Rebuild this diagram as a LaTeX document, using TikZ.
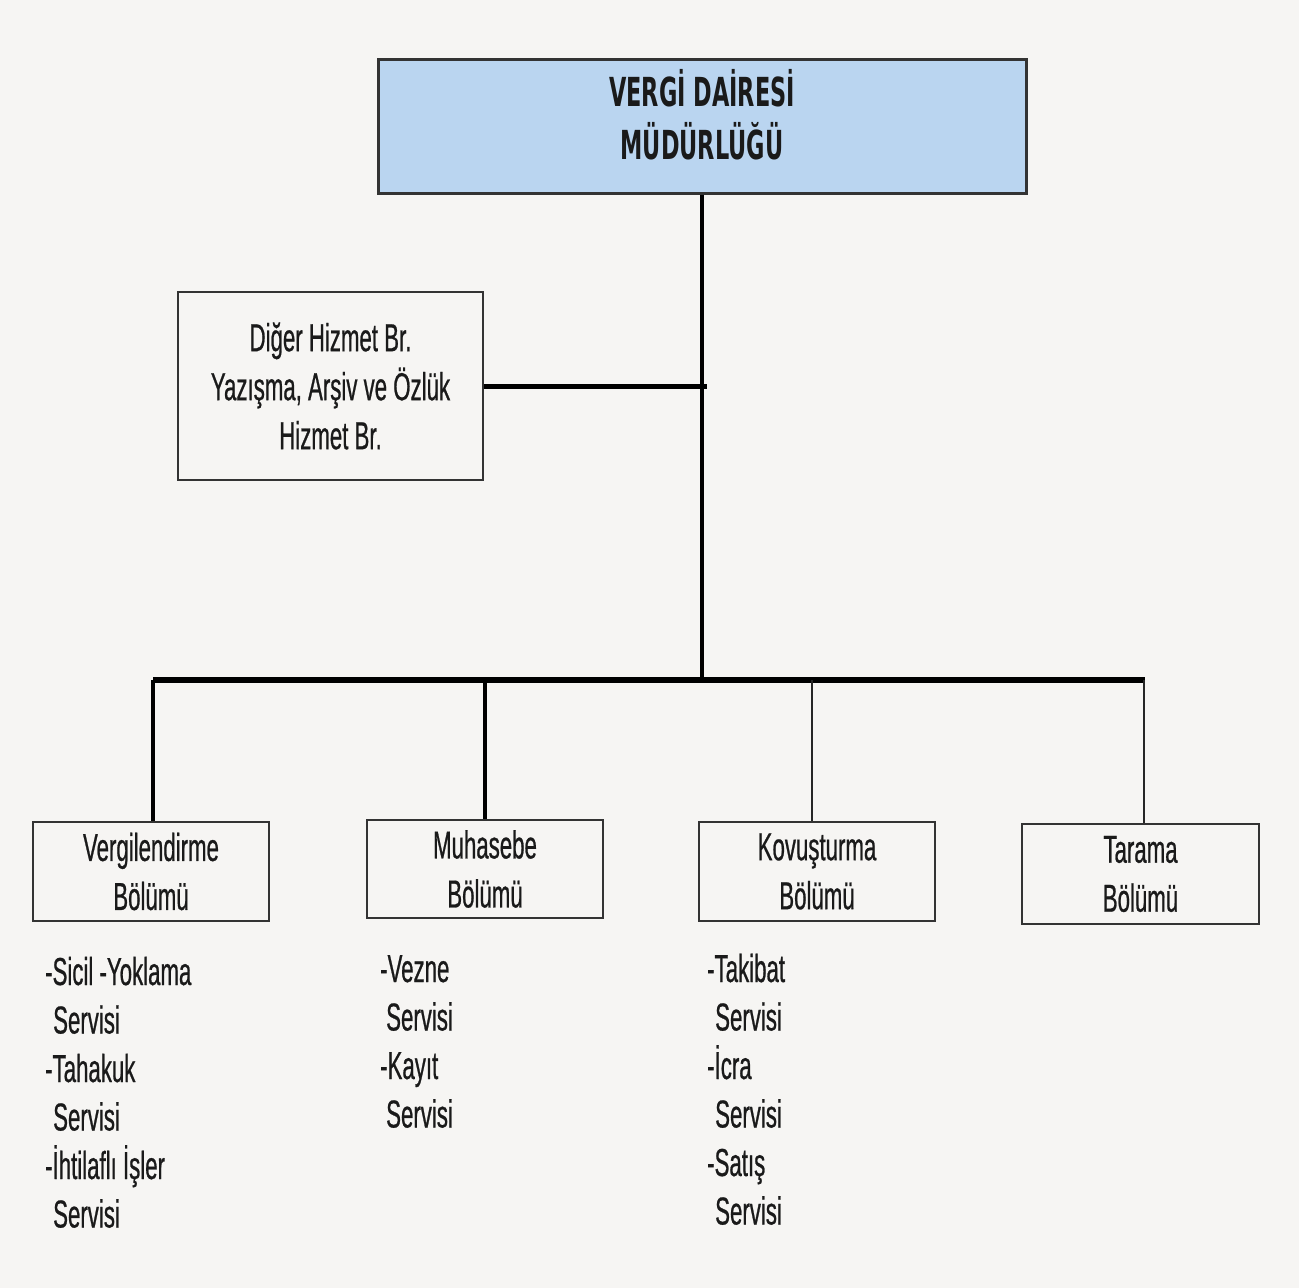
\documentclass[tikz,border=0pt]{standalone}
\usepackage{fontspec}
\setmainfont{Liberation Sans}[FakeStretch=0.57, FakeBold=0.6]
\newfontfamily\titlefont{DejaVu Sans}[FakeStretch=0.56]
\definecolor{bg}{HTML}{F6F5F3}
\definecolor{topfill}{HTML}{BAD5F0}
\definecolor{edge}{HTML}{333333}
\definecolor{ink}{HTML}{1A1A1A}
\begin{document}
\begin{tikzpicture}[x=1pt,y=-1pt,
  box/.style={draw=edge, line width=2.5pt, fill=bg, align=center, inner sep=0pt,
    text=ink, font=\fontsize{39}{49}\selectfont},
  topbox/.style={box, fill=topfill, line width=3pt},
  titletext/.style={align=center, inner sep=0pt, text=ink,
    font=\titlefont\bfseries\fontsize{40}{53}\selectfont},
  listtext/.style={anchor=base west, align=left, inner sep=0pt, text=ink,
    font=\fontsize{39}{48.5}\selectfont},
  conn/.style={draw=black, line width=3.5pt},
  thinconn/.style={draw=black!85, line width=2pt}]
\fill[bg] (0,0) rectangle (1299,1288);
\useasboundingbox (0,0) rectangle (1299,1288);

\node[topbox, minimum width=648pt, minimum height=134pt] (top) at (702,126) {};
\node[titletext] (toptext) at ([yshift=11pt]top.center) {VERGİ DAİRESİ\\MÜDÜRLÜĞÜ};
\node[box, minimum width=305pt, minimum height=188pt] (side) at (330.5,386)
  {Diğer Hizmet Br.\\Yazışma, Arşiv ve Özlük\\Hizmet Br.};

\node[box, minimum width=236pt, minimum height=99pt] (b1) at (151,871.5) {Vergilendirme\\Bölümü};
\node[box, minimum width=236pt, minimum height=98pt] (b2) at (485,869) {Muhasebe\\Bölümü};
\node[box, minimum width=236pt, minimum height=99pt] (b3) at (817,871.5) {Kovuşturma\\Bölümü};
\node[box, minimum width=237pt, minimum height=100pt] (b4) at (1140.5,874) {Tarama\\Bölümü};

\coordinate (barL) at (153,680);
\coordinate (barR) at (1145,680);

\draw[conn, line width=4pt] (top.south) -- (top.south |- barL);
\draw[conn, line width=5pt] (side.east) -- ([xshift=5pt]side.east -| top.south);
\draw[conn, line width=6pt] (barL) -- (barR);
\draw[conn] ([xshift=2pt]b1.north) -- ([xshift=2pt]b1.north |- barL);
\draw[conn] (b2.north) -- (b2.north |- barL);
\draw[thinconn] ([xshift=-5pt]b3.north) -- ([xshift=-5pt]b3.north |- barL);
\draw[thinconn] ([xshift=3.5pt]b4.north) -- ([xshift=3.5pt]b4.north |- barL);

\node[listtext] (l1) at (45,1227.5)
  {-Sicil -Yoklama\\\hspace*{8pt}Servisi\\-Tahakuk\\\hspace*{8pt}Servisi\\-İhtilaflı İşler\\\hspace*{8pt}Servisi};
\node[listtext] (l2) at (380,1127.5)
  {-Vezne\\\hspace*{6pt}Servisi\\-Kayıt\\\hspace*{6pt}Servisi};
\node[listtext] (l3) at (707,1224.5)
  {-Takibat\\\hspace*{8pt}Servisi\\-İcra\\\hspace*{8pt}Servisi\\-Satış\\\hspace*{8pt}Servisi};
\end{tikzpicture}
\end{document}
